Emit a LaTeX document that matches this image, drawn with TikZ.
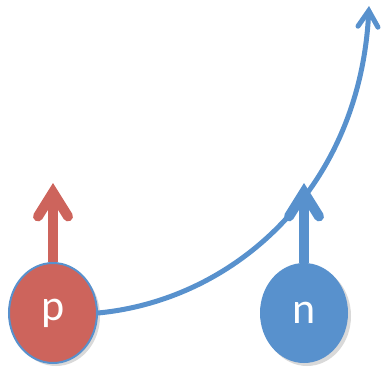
\documentclass[tikz,border=0pt]{standalone}
\usepackage{fontspec}
\setmainfont{Carlito}
\usetikzlibrary{arrows.meta,shapes.geometric,shadows}
\definecolor{pred}{RGB}{205,100,92}
\definecolor{nblue}{RGB}{88,145,205}
\begin{document}
\begin{tikzpicture}[x=1pt,y=1pt,
  spin/.style={line width=10pt,-{Straight Barb[length=24pt,width=30pt,line cap=round]}},
  track/.style={line width=5pt,nblue,-{Straight Barb[length=16pt,width=20pt,line cap=round]}},
  nucleon/.style={ellipse,minimum width=88pt,minimum height=100pt,text=white,
    font=\fontsize{44}{44}\selectfont,
    drop shadow={opacity=.3,shadow xshift=3pt,shadow yshift=-3pt}}]
\useasboundingbox (0,0) rectangle (386,368);
% nucleons
\node[nucleon,fill=pred,draw=nblue,line width=2pt] (p) at (53,55) {p};
\node[nucleon,fill=nblue] (n) at (304,55) {n};
% spins
\coordinate (ptip) at (53,185);
\coordinate (ntip) at (304,185);
\draw[spin,pred] (p.north) -- (ptip);
\draw[spin,nblue] (n.north) -- (ntip);
% outgoing track
\coordinate (out) at (369,362);
\draw[track] (p.east) .. controls (235,68) and (360,180) .. (out);
\end{tikzpicture}
\end{document}
